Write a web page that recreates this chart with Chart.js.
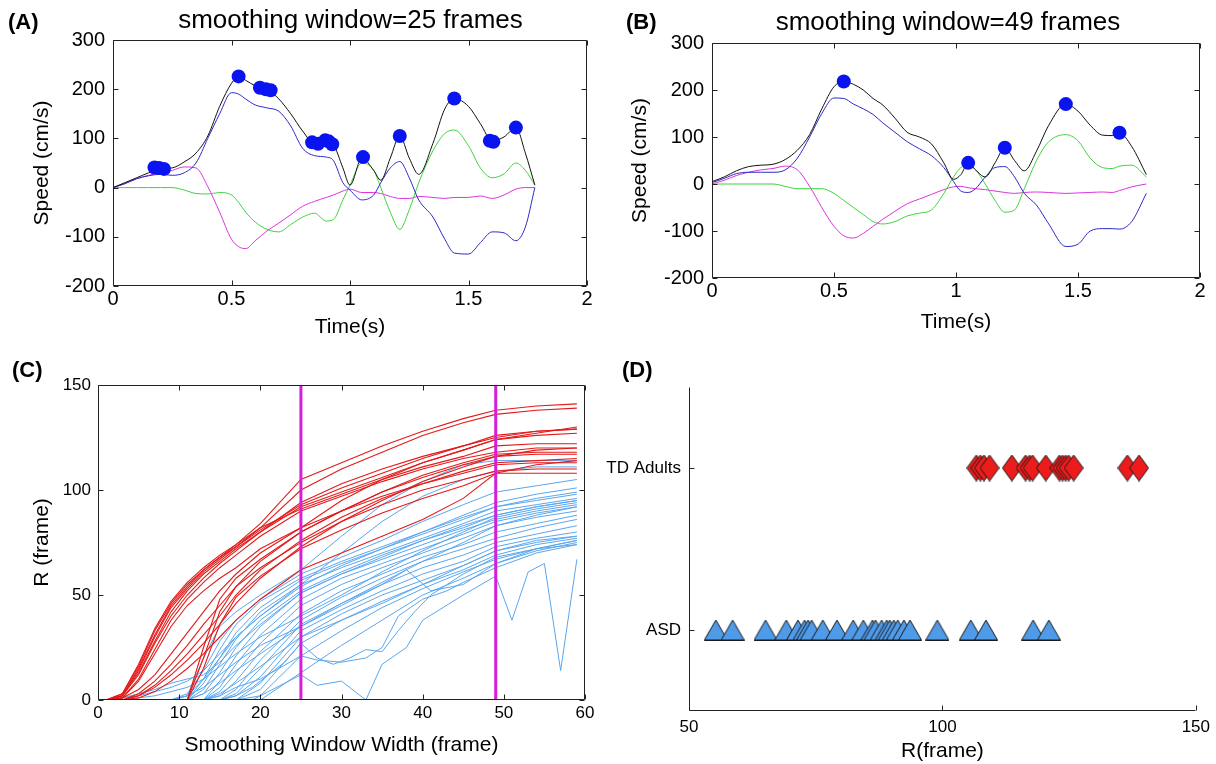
<!DOCTYPE html>
<html>
<head>
<meta charset="utf-8">
<script src="https://cdn.jsdelivr.net/npm/chart.js@4.4.1/dist/chart.umd.min.js"></script>
<style>
  body { margin: 0; background: #fff; }
  #figure { position: relative; width: 1216px; height: 764px; font-family: "Liberation Sans", Arial, sans-serif; color: #000; }
  #figure canvas { position: absolute; }
  .tag { position: absolute; font-weight: bold; font-size: 22px; line-height: 24px; }
  .title { position: absolute; font-size: 26px; line-height: 30px; text-align: center; white-space: nowrap; }
</style>
</head>
<body>
<div id="figure">
  <canvas id="panelA" width="600" height="340" style="left:0;top:0"></canvas>
  <canvas id="panelB" width="616" height="340" style="left:600px;top:0"></canvas>
  <canvas id="panelC" width="600" height="424" style="left:0;top:340px"></canvas>
  <canvas id="panelD" width="616" height="424" style="left:600px;top:340px"></canvas>
  <div class="tag" style="left:8px;top:10px">(A)</div>
  <div class="tag" style="left:626px;top:10px">(B)</div>
  <div class="tag" style="left:12px;top:358px">(C)</div>
  <div class="tag" style="left:622px;top:358px">(D)</div>
  <div class="title" style="left:113px;width:475px;top:4px">smoothing window=25 frames</div>
  <div class="title" style="left:704px;width:488px;top:6px">smoothing window=49 frames</div>
</div>
<script>
const timeA = [0, 0.05, 0.1, 0.15, 0.2, 0.25, 0.3, 0.35, 0.4, 0.45, 0.5, 0.53, 0.56, 0.6, 0.65, 0.7, 0.75, 0.8, 0.85, 0.9,
  0.93, 0.97, 1.0, 1.05, 1.1, 1.13, 1.17, 1.21, 1.25, 1.29, 1.35, 1.4, 1.44, 1.5, 1.55, 1.6, 1.65, 1.7, 1.74, 1.78];
const totalA = [0, 10, 20, 30, 38, 40, 52, 70, 105, 165, 212, 226, 218, 207, 200, 180, 150, 115, 90, 96,
  88, 40, 5, 60, 35, 15, 60, 105, 60, 27, 90, 160, 181, 165, 130, 95, 103, 122, 70, 5];
const blueA = [0, 8, 18, 24, 27, 25, 30, 50, 100, 150, 193, 190, 180, 168, 162, 155, 125, 80, 65, 62,
  55, 10, -5, -25, -15, 10, 40, 53, 20, -25, -60, -105, -133, -135, -112, -90, -92, -108, -80, 0];
const greenA = [0, 0, 0, 0, 0, 0, -5, -12, -13, -10, -15, -30, -50, -70, -85, -90, -75, -60, -52, -68,
  -65, -25, 5, 50, 35, 0, -50, -85, -45, 10, 75, 110, 117, 85, 40, 20, 28, 50, 35, 5];
const magentaA = [0, 8, 18, 25, 30, 35, 42, 40, 2, -50, -105, -120, -124, -108, -88, -72, -55, -38, -28, -20,
  -15, -7, -3, -10, -10, -12, -18, -22, -22, -18, -20, -22, -20, -20, -17, -22, -15, -3, 0, 0];
const peakTimeA = [0.175, 0.195, 0.215, 0.53, 0.62, 0.645, 0.665, 0.84, 0.865, 0.895, 0.91, 0.925, 1.055, 1.21, 1.44, 1.59, 1.605, 1.7];
const peakSpeedA = [41, 40, 38, 226, 203, 200, 198, 92, 89, 96, 94, 88, 62, 105, 181, 95, 93, 122];

const timeB = [0, 0.05, 0.1, 0.15, 0.2, 0.25, 0.3, 0.35, 0.4, 0.45, 0.5, 0.54, 0.58, 0.62, 0.66, 0.7, 0.75, 0.8, 0.85, 0.9,
  0.95, 0.99, 1.02, 1.05, 1.08, 1.12, 1.16, 1.2, 1.24, 1.28, 1.33, 1.38, 1.45, 1.5, 1.55, 1.6, 1.64, 1.67, 1.72, 1.78];
const totalB = [5, 15, 28, 37, 40, 42, 52, 72, 105, 160, 207, 218, 212, 200, 182, 168, 140, 110, 100, 85,
  45, 10, 20, 45, 30, 15, 45, 77, 50, 28, 70, 125, 170, 155, 125, 104, 103, 108, 80, 20];
const blueB = [3, 12, 22, 25, 25, 25, 30, 55, 100, 150, 183, 182, 170, 160, 148, 130, 110, 90, 75, 60,
  35, 5, -15, -18, -10, 15, 35, 37, 15, -20, -45, -85, -133, -128, -100, -95, -95, -96, -80, -20];
const greenB = [0, 0, 0, 0, 0, 0, -5, -10, -10, -10, -20, -35, -50, -65, -80, -85, -80, -68, -62, -55,
  -20, 15, 35, 40, 30, 0, -35, -60, -55, -10, 50, 90, 105, 92, 55, 35, 33, 38, 40, 15];
const magentaB = [0, 8, 18, 25, 30, 33, 38, 30, -5, -50, -90, -110, -115, -105, -90, -75, -58, -42, -32, -22,
  -12, -6, -5, -8, -10, -12, -15, -18, -20, -18, -17, -18, -20, -19, -18, -17, -18, -14, -6, 0];
const peakTimeB = [0.54, 1.05, 1.2, 1.45, 1.67];
const peakSpeedB = [218, 45, 77, 170, 109];

const windowWidths = [1, 3, 5, 7, 9, 11, 13, 15, 17, 20, 25, 30, 35, 40, 45, 49, 54, 59];
const tdCurves = [
  [0, 3, 17, 34, 47, 56, 63, 69, 74, 84, 105, 113, 121, 128, 134, 138, 140, 141],
  [0, 3, 16, 33, 46, 55, 62, 68, 73, 82, 100, 110, 118, 126, 132, 136, 138, 139],
  [0, 2, 14, 30, 44, 53, 61, 67, 73, 81, 93, 101, 108, 115, 121, 125, 128, 129],
  [0, 2, 13, 28, 42, 52, 60, 66, 72, 80, 92, 99, 106, 113, 119, 124, 127, 130],
  [0, 2, 15, 31, 45, 54, 62, 68, 74, 82, 91, 98, 105, 111, 116, 121, 122, 122],
  [0, 1, 10, 24, 38, 48, 56, 63, 69, 78, 90, 97, 104, 110, 115, 118, 120, 120],
  [0, 1, 9, 22, 35, 45, 52, 58, 63, 72, 82, 90, 97, 103, 108, 112, 113, 113],
  [0, 2, 12, 27, 40, 50, 58, 65, 71, 80, 94, 103, 110, 116, 121, 126, 128, 129],
  [0, 1, 5, 12, 22, 32, 42, 52, 60, 70, 82, 95, 105, 113, 119, 124, 126, 127],
  [0, 0, 3, 9, 17, 26, 36, 45, 54, 66, 80, 90, 99, 107, 113, 117, 118, 118],
  [0, 0, 2, 7, 14, 22, 31, 40, 50, 62, 76, 87, 96, 103, 109, 113, 114, 115],
  [0, 0, 2, 6, 12, 19, 27, 36, 46, 58, 73, 85, 95, 104, 111, 116, 117, 117],
  [0, 0, 1, 4, 9, 15, 22, 30, 38, 48, 62, 70, 78, 86, 96, 108, 112, 114],
  [0, 0, 0, 0, 0, 0, 25, 48, 58, 67, 80, 90, 99, 106, 112, 116, 119, 120],
  [0, 0, 0, 0, 0, 0, 20, 42, 54, 63, 75, 85, 93, 100, 105, 109, 110, 110],
  [0, 0, 0, 0, 0, 0, 15, 36, 49, 59, 72, 81, 89, 96, 102, 108, 108, 108]
];
const asdCurves = [
  [0, 0, 0, 0, 0, 2, 20, 35, 42, 50, 62, 78, 93, 104, 112, 114, 114, 114],
  [0, 0, 0, 0, 0, 0, 8, 20, 30, 40, 55, 70, 85, 97, 105, 109, 111, 111],
  [0, 0, 0, 0, 0, 3, 14, 28, 38, 48, 60, 68, 76, 85, 93, 99, 102, 105],
  [0, 0, 0, 0, 0, 0, 10, 24, 36, 47, 58, 66, 73, 80, 88, 94, 98, 101],
  [0, 0, 0, 0, 0, 2, 10, 20, 32, 44, 57, 65, 72, 79, 86, 92, 95, 98],
  [0, 0, 0, 0, 0, 0, 5, 17, 29, 42, 55, 63, 70, 77, 84, 90, 93, 96],
  [0, 0, 0, 0, 0, 0, 3, 13, 25, 38, 52, 61, 69, 76, 82, 88, 92, 95],
  [0, 0, 0, 0, 0, 0, 0, 9, 21, 35, 51, 60, 67, 74, 81, 86, 90, 93],
  [0, 0, 0, 0, 0, 0, 0, 6, 17, 31, 48, 58, 65, 72, 79, 85, 89, 92],
  [0, 0, 0, 0, 0, 0, 0, 4, 13, 27, 45, 55, 63, 70, 77, 83, 87, 90],
  [0, 0, 0, 0, 0, 0, 0, 2, 9, 23, 41, 52, 60, 68, 74, 80, 84, 88],
  [0, 0, 0, 0, 0, 0, 0, 0, 5, 19, 38, 49, 58, 66, 72, 77, 82, 86],
  [0, 0, 0, 0, 0, 0, 0, 0, 3, 15, 36, 46, 55, 63, 69, 75, 79, 83],
  [0, 0, 0, 0, 0, 0, 0, 0, 2, 11, 33, 43, 52, 60, 66, 73, 77, 80],
  [0, 0, 0, 0, 0, 0, 0, 0, 0, 8, 30, 41, 50, 57, 64, 71, 76, 78],
  [0, 0, 0, 0, 0, 0, 0, 0, 0, 5, 27, 38, 47, 55, 62, 69, 74, 77],
  [0, 0, 0, 0, 0, 0, 0, 0, 0, 2, 21, 33, 44, 53, 61, 67, 72, 76],
  [0, 0, 0, 0, 0, 0, 0, 0, 0, 0, 13, 26, 38, 50, 58, 65, 71, 75],
  [0, 1, 3, 5, 8, 10, 12, 18, 26, 36, 51, 60, 68, 76, 83, 88, 92, 95],
  [0, 1, 2, 4, 6, 9, 14, 22, 30, 40, 54, 64, 72, 80, 87, 92, 96, 99],
  [0, 0, 1, 2, 4, 6, 10, 16, 22, 30, 40, 50, 61, 71, 80, 87, 91, 94],
  [0, 0, 0, 0, 0, 2, 6, 12, 18, 26, 35, 46, 56, 66, 75, 83, 88, 92],
  [0, 0, 0, 0, 0, 0, 0, 3, 8, 16, 30, 38, 46, 55, 64, 71, 75, 78]
];
const asdOddWidths = [
  [1, 19, 21, 23, 25, 27, 30, 33, 35, 38, 40, 45, 49, 51, 53, 55, 57, 59],
  [1, 15, 17, 19, 21, 23, 25, 27, 29, 31, 33, 35, 37, 39, 41, 45, 49, 54, 59],
  [1, 13, 15, 17, 20, 25, 27, 30, 33, 35, 37, 40, 43, 45, 49, 54, 59],
  [1, 11, 13, 15, 17, 20, 25, 30, 35, 38, 41, 45, 49, 54, 59]
];
const asdOddCurves = [
  [0, 0, 4, 8, 12, 7, 9, 0, 17, 25, 38, 50, 59, 38, 61, 65, 14, 67],
  [0, 0, 2, 6, 12, 18, 27, 20, 17, 20, 24, 23, 33, 42, 50, 60, 68, 72, 74],
  [0, 0, 2, 6, 10, 21, 19, 18, 20, 25, 40, 48, 52, 56, 63, 70, 74],
  [0, 0, 3, 8, 14, 22, 35, 45, 55, 62, 52, 55, 65, 72, 76]
];
const markedWindows = [25, 49];

const groupLabels = ["ASD", "TD Adults"];
const tdR = [106.7, 107.5, 108.2, 109.3, 113.7, 116.4, 117.2, 117.8, 120.4, 123.1, 123.7, 124.3, 124.9, 125.9, 136.5, 138.8];
const asdR = [55.3, 58.6, 65.1, 69.2, 71.5, 72.8, 73.5, 74.2, 76.4, 79.2, 82.4, 84.4, 86.2, 86.8, 88.0, 89.0,
  89.6, 90.4, 91.2, 92.4, 93.6, 99.0, 105.6, 108.6, 117.9, 121.0];

Chart.defaults.font.family = '"Liberation Sans", Arial, Helvetica, sans-serif';
Chart.defaults.color = "#000";
Chart.defaults.animation = false;

// matlab style axes: box plus inward tick marks
Chart.register({
  id: "box",
  afterDraw(chart, args, opts) {
    const { ctx, chartArea: a } = chart;
    const xs = chart.scales.x;
    const ys = chart.scales.y;
    const len = 5;
    const L = Math.round(a.left) + 0.5, R = Math.round(a.right) - 0.5;
    const T = Math.round(a.top) + 0.5, B = Math.round(a.bottom) - 0.5;
    ctx.save();
    ctx.strokeStyle = "#222";
    ctx.lineWidth = 1;
    ctx.beginPath();
    if (opts.full) {
      ctx.rect(L, T, R - L, B - T);
    } else {
      ctx.moveTo(L, T);
      ctx.lineTo(L, B);
      ctx.lineTo(R, B);
    }
    xs.ticks.forEach(t => {
      const px = Math.round(xs.getPixelForValue(t.value)) + 0.5;
      ctx.moveTo(px, B);
      ctx.lineTo(px, B - len);
      if (opts.full) { ctx.moveTo(px, T); ctx.lineTo(px, T + len); }
    });
    ys.ticks.forEach(t => {
      const py = Math.round(ys.getPixelForValue(t.value)) + 0.5;
      ctx.moveTo(L, py);
      ctx.lineTo(L + len, py);
      if (opts.full) { ctx.moveTo(R, py); ctx.lineTo(R - len, py); }
    });
    ctx.stroke();
    ctx.restore();
  }
});

const xy = (xs, ys) => xs.map((x, i) => ({ x, y: ys[i] }));

function trace(xs, ys, color, width, order, smooth) {
  return {
    data: xy(xs, ys),
    showLine: true,
    borderColor: color,
    borderWidth: width,
    pointRadius: 0,
    order,
    cubicInterpolationMode: smooth ? "monotone" : "default",
    tension: 0
  };
}

function axis(opts) {
  return {
    type: "linear",
    min: opts.min,
    max: opts.max,
    afterBuildTicks: opts.fixedTicks ? s => { s.ticks = opts.fixedTicks.map(value => ({ value })); } : undefined,
    ticks: {
      stepSize: opts.step,
      padding: opts.tickPad,
      autoSkip: false,
      maxRotation: 0,
      font: { size: opts.tickSize },
      callback: opts.format || (v => String(v))
    },
    grid: { display: false, drawTicks: false },
    border: { display: false },
    title: {
      display: !!opts.title,
      text: opts.title,
      font: { size: 21 },
      padding: opts.titlePad
    },
    afterFit: opts.horizontal ? s => { s.height = opts.size; } : s => { s.width = opts.size; }
  };
}

function speedChart(id, pad, area, t, total, vx, vy, vz, peakT, peakV) {
  new Chart(document.getElementById(id), {
    type: "scatter",
    data: {
      datasets: [
        { data: xy(peakT, peakV), pointRadius: 7, pointBackgroundColor: "#0a14f0", pointBorderWidth: 0, order: 0 },
        trace(t, total, "#111111", 1, 1, true),
        trace(t, vx, "#2b2bc8", 1, 2, true),
        trace(t, vy, "#3fd23f", 1, 3, true),
        trace(t, vz, "#dd33dd", 1, 4, true)
      ]
    },
    options: {
      responsive: false,
      events: [],
      layout: { autoPadding: false, padding: pad },
      plugins: { legend: { display: false }, tooltip: { enabled: false }, box: { full: true } },
      scales: {
        x: axis({ min: 0, max: 2, step: 0.5, tickPad: 1, tickSize: 20, title: "Time(s)",
          titlePad: { top: 0, bottom: area.xTitle }, horizontal: true, size: area.xh }),
        y: axis({ min: -200, max: 300, step: 100, tickPad: 8, tickSize: 20, title: "Speed (cm/s)",
          titlePad: { top: area.yTitle, bottom: 0 }, size: area.yw })
      }
    }
  });
}

speedChart("panelA", { top: 40, right: 13, left: 0, bottom: 0 }, { xh: 54, yw: 113, xTitle: 0, yTitle: 30 },
  timeA, totalA, blueA, greenA, magentaA, peakTimeA, peakSpeedA);
speedChart("panelB", { top: 43, right: 16, left: 0, bottom: 0 }, { xh: 62, yw: 112, xTitle: 5, yTitle: 28 },
  timeB, totalB, blueB, greenB, magentaB, peakTimeB, peakSpeedB);

const cDatasets = [];
markedWindows.forEach(w => cDatasets.push(trace([w, w], [0, 150], "#d51fd5", 3, 0, false)));
tdCurves.forEach(c => cDatasets.push(trace(windowWidths, c, "#e31a1a", 1.1, 1, false)));
asdCurves.forEach(c => cDatasets.push(trace(windowWidths, c, "#5aa6ee", 1, 2, false)));
asdOddCurves.forEach((c, i) => cDatasets.push(trace(asdOddWidths[i], c, "#5aa6ee", 1, 2, false)));

new Chart(document.getElementById("panelC"), {
  type: "scatter",
  data: { datasets: cDatasets },
  options: {
    responsive: false,
    events: [],
    layout: { autoPadding: false, padding: { top: 45, right: 15, left: 0, bottom: 0 } },
    plugins: { legend: { display: false }, tooltip: { enabled: false }, box: { full: true } },
    scales: {
      x: axis({ min: 0, max: 60, step: 10, tickPad: 3, tickSize: 17, title: "Smoothing Window Width (frame)",
        titlePad: { top: 0, bottom: 6 }, horizontal: true, size: 64 }),
      y: axis({ min: 0, max: 150, step: 50, tickPad: 7, tickSize: 17, title: "R (frame)",
        titlePad: { top: 30, bottom: 0 }, size: 98 })
    }
  }
});

function marker(shape, w, h, fill) {
  const c = document.createElement("canvas");
  c.width = w;
  c.height = h;
  const g = c.getContext("2d");
  g.beginPath();
  if (shape === "diamond") {
    g.moveTo(w / 2, 0.5);
    g.lineTo(w - 0.5, h / 2);
    g.lineTo(w / 2, h - 0.5);
    g.lineTo(0.5, h / 2);
  } else {
    g.moveTo(w / 2, 0.5);
    g.lineTo(w - 0.5, h - 0.5);
    g.lineTo(0.5, h - 0.5);
  }
  g.closePath();
  g.fillStyle = fill;
  g.fill();
  g.strokeStyle = "#1a1a1a";
  g.lineWidth = 1;
  g.stroke();
  return c;
}

new Chart(document.getElementById("panelD"), {
  type: "scatter",
  data: {
    datasets: [
      { data: tdR.map(x => ({ x, y: 2 })), pointStyle: marker("diamond", 20, 27, "#ec1c1c"), pointRadius: 10 },
      { data: asdR.map(x => ({ x, y: 1 })), pointStyle: marker("triangle", 24, 21, "#4f9be8"), pointRadius: 10 }
    ]
  },
  options: {
    responsive: false,
    events: [],
    layout: { autoPadding: false, padding: { top: 47, right: 14, left: 0, bottom: 0 } },
    plugins: { legend: { display: false }, tooltip: { enabled: false }, box: { full: false } },
    scales: {
      x: axis({ min: 50, max: 150, step: 50, tickPad: 6, tickSize: 17, title: "R(frame)",
        titlePad: { top: 0, bottom: 0 }, horizontal: true, size: 53 }),
      y: axis({ min: 0.5, max: 2.5, fixedTicks: [1, 2], tickPad: 8, tickSize: 17,
        format: v => groupLabels[v - 1], size: 89 })
    }
  }
});
</script>
</body>
</html>
